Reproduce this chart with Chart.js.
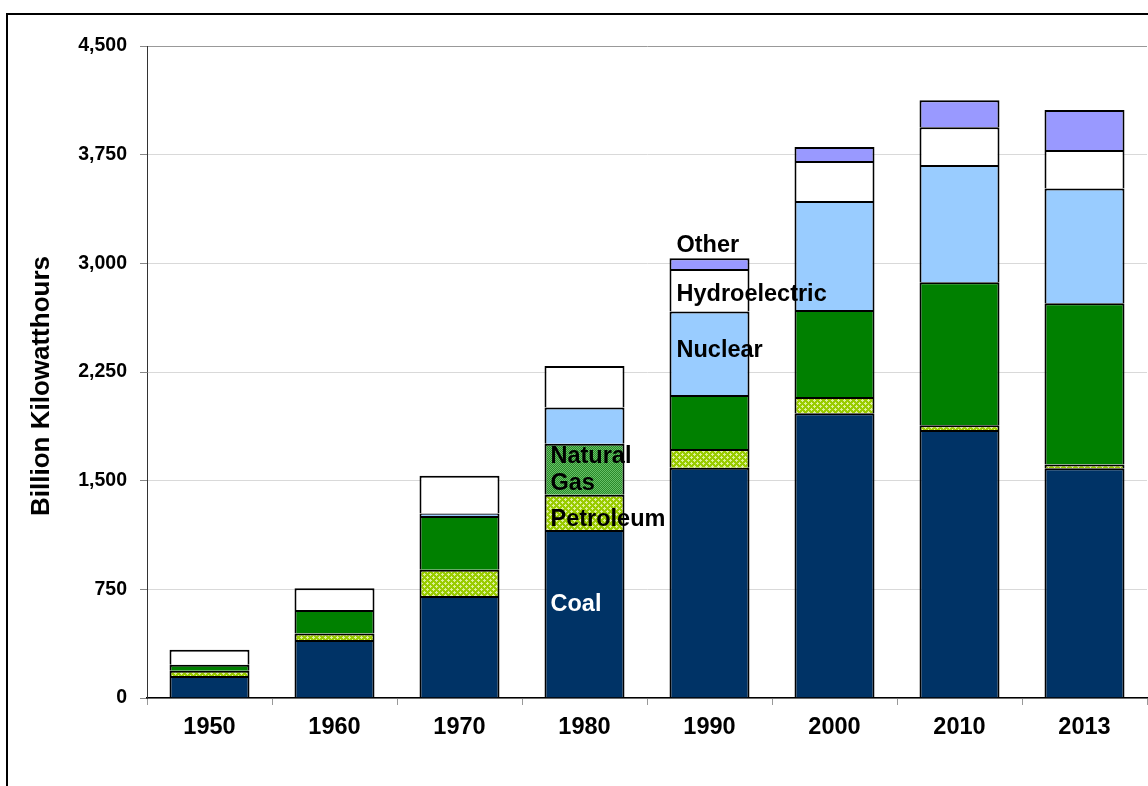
<!DOCTYPE html>
<html><head><meta charset="utf-8">
<script src="https://cdn.jsdelivr.net/npm/chart.js@4.4.1/dist/chart.umd.min.js"></script>
<style>html,body{margin:0;padding:0;background:#fff;overflow:hidden}#wrap{width:1148px;height:786px;position:relative}</style>
</head><body><div id="wrap"><canvas id="c"></canvas></div>
<script>
// ---- data (billion kilowatthours) ----
const categories = ['1950', '1960', '1970', '1980', '1990', '2000', '2010', '2013'];
const coal       = [152, 400, 704, 1160, 1590, 1966, 1850, 1585];
const petroleum  = [36, 46, 182, 242, 128, 111, 32, 26];
const naturalGas = [42, 161, 370, 352, 373, 601, 988, 1114];
const nuclear    = [0, 0, 18, 251, 576, 753, 808, 792];
const hydro      = [103, 150, 260, 286, 294, 276, 261, 266];
const other      = [0, 0, 0, 0, 74, 96, 187, 276];
const yTicks     = [0, 750, 1500, 2250, 3000, 3750, 4500];
const yTitle     = 'Billion Kilowatthours';
const labelTexts = ['Other', 'Hydroelectric', 'Nuclear', 'Natural', 'Gas', 'Petroleum', 'Coal'];

const FONT = '"Liberation Sans", Arial, sans-serif';
const canvas = document.getElementById('c');
const ctx = canvas.getContext('2d');

function makePattern(size, bg, fg, pts) {
  const c = document.createElement('canvas');
  c.width = size; c.height = size;
  const x = c.getContext('2d');
  x.fillStyle = bg; x.fillRect(0, 0, size, size);
  x.fillStyle = fg;
  pts.forEach(p => x.fillRect(p[0], p[1], 1, 1));
  return ctx.createPattern(c, 'repeat');
}
const petroPattern = makePattern(6, '#99cc00', '#ddf09a',
  [[1,0],[0,1],[1,1],[2,1],[1,2],[4,3],[3,4],[4,4],[5,4],[4,5]]);
const gasPattern = makePattern(2, '#2a8a2a', '#66c066', [[0,0],[1,1]]);

const gasColors = categories.map(c => c === '1980' ? gasPattern : '#008000');

const common = { borderColor: '#000', borderWidth: 2, borderSkipped: 'start',
  barPercentage: 0.64, categoryPercentage: 1.0 };

const bgPlugin = {
  id: 'bg',
  beforeDraw(chart) {
    const c = chart.ctx;
    c.save(); c.fillStyle = '#fff'; c.fillRect(0, 0, chart.width, chart.height); c.restore();
  },
  afterDraw(chart) {
    const c = chart.ctx;
    c.save();
    c.strokeStyle = '#000'; c.lineWidth = 2;
    c.beginPath();
    c.moveTo(7, chart.height + 5); c.lineTo(7, 14); c.lineTo(chart.width + 5, 14);
    c.stroke();
    // y axis title
    c.translate(42, 386);
    c.rotate(-Math.PI / 2);
    c.font = 'bold 26px ' + FONT;
    c.fillStyle = '#000';
    c.textAlign = 'center'; c.textBaseline = 'middle';
    c.fillText(yTitle, 0, 0);
    c.restore();
  }
};

const labelPlugin = {
  id: 'labels',
  afterDatasetsDraw(chart) {
    const c = chart.ctx, xs = chart.scales.x, ys = chart.scales.y;
    const spots = [
      [4, 3080, -33, '#000'],
      [4, 2740, -33, '#000'],
      [4, 2356, -33, '#000'],
      [3, 1624, -34, '#000'],
      [3, 1436, -34, '#000'],
      [3, 1187, -34, '#000'],
      [3, 600, -34, '#fff']
    ];
    c.save();
    c.font = 'bold 23.5px ' + FONT;
    c.textAlign = 'left'; c.textBaseline = 'alphabetic';
    spots.forEach((s, i) => {
      c.fillStyle = s[3];
      c.fillText(labelTexts[i], xs.getPixelForValue(s[0]) + s[2], ys.getPixelForValue(s[1]));
    });
    c.restore();
  }
};

new Chart(canvas, {
  type: 'bar',
  data: {
    labels: categories,
    datasets: [
      Object.assign({ label: 'Coal', data: coal, backgroundColor: '#003366' }, common),
      Object.assign({ label: 'Petroleum', data: petroleum, backgroundColor: petroPattern }, common),
      Object.assign({ label: 'Natural Gas', data: naturalGas, backgroundColor: gasColors }, common),
      Object.assign({ label: 'Nuclear', data: nuclear, backgroundColor: '#99ccff' }, common),
      Object.assign({ label: 'Hydroelectric', data: hydro, backgroundColor: '#ffffff' }, common),
      Object.assign({ label: 'Other', data: other, backgroundColor: '#9999ff' }, common)
    ]
  },
  options: {
    responsive: true, maintainAspectRatio: false, animation: false,
    layout: { padding: { top: 46, right: 1, left: 0, bottom: 0 } },
    plugins: { legend: { display: false }, tooltip: { enabled: false }, title: { display: false } },
    scales: {
      x: {
        stacked: true,
        grid: { display: true, drawOnChartArea: false, offset: true, tickLength: 7, tickColor: '#999' },
        border: { color: '#000', width: 1.5 },
        ticks: { color: '#000', font: { family: FONT, size: 23.5, weight: 'bold' }, padding: 8 },
        afterFit(s) { s.height = 88; }
      },
      y: {
        stacked: true, min: 0, max: 4500,
        afterBuildTicks(s) { s.ticks = yTicks.map(v => ({ value: v })); },
        grid: { color: ctx => ctx.tick && ctx.tick.value === 4500 ? '#999' : '#d9d9d9', tickLength: 7, tickColor: '#888', lineWidth: 1 },
        border: { color: '#333', width: 1 },
        ticks: { color: '#000', padding: 13, font: { family: FONT, size: 19.5, weight: 'bold' },
          callback: v => Number(v).toLocaleString('en-US') },
        afterFit(s) { s.width = 147; }
      }
    }
  },
  plugins: [bgPlugin, labelPlugin]
});
</script>
</body></html>
